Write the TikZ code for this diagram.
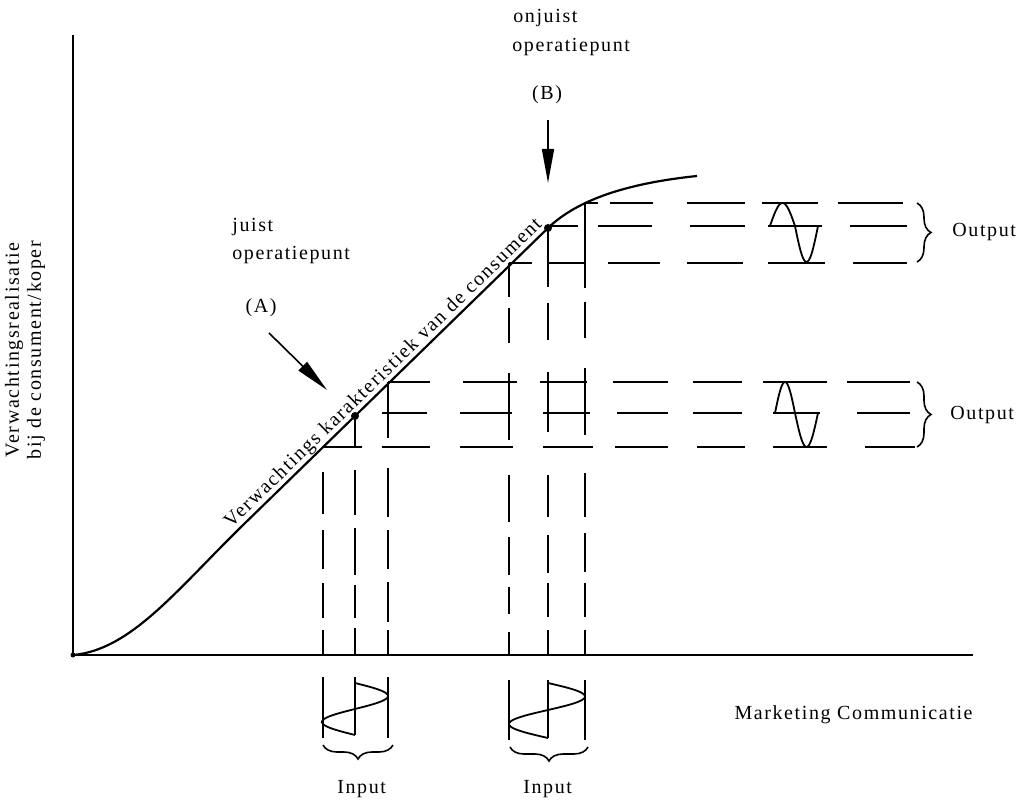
\documentclass[tikz,border=0pt]{standalone}
\usepackage{fontspec}
\setmainfont[LetterSpace=8]{Liberation Serif}
\usetikzlibrary{arrows.meta,decorations.pathreplacing}

\begin{document}
\begin{tikzpicture}[x=0.5pt,y=-0.5pt,
  axis/.style={line width=1pt},
  curve/.style={line width=1.1pt},
  grid/.style={line width=0.8pt},
  wave/.style={line width=0.9pt, line join=round},
  lbl/.style={inner sep=0pt, font=\fontsize{10}{10.5}\selectfont},
  dot/.style={circle, fill, inner sep=0pt, minimum size=4pt},
  pointer/.style={line width=0.8pt, -{Triangle[length=17pt,width=6pt]}},
  bracer/.style={decorate, decoration={brace, amplitude=7pt}, line width=0.8pt}]

\useasboundingbox (0,0) rectangle (1028,802);

% axes
\coordinate (O) at (73,655);
\coordinate (ytop) at (73,35);
\coordinate (xend) at (973,655);
\draw[axis] (ytop) -- (O) -- (xend);
\fill (O) circle (2.5);

% characteristic curve
\draw[curve] (O) .. controls (130,650) and (175,592) .. (240,528)
  -- (548,228) .. controls (570,207) and (610,185) .. (697,176);

% operating points
\node[dot] (pA) at (355,416) {};
\node[dot] (pB) at (548,228) {};

% projection lines, point A
\foreach \a/\b in {388/430,463/517,540/587,613/668,693/742,763/827,847/910}
  \draw[grid] (\a,382) -- (\b,382);
\foreach \a/\b in {382/427,460/512,543/590,617/668,693/742,773/820,857/910}
  \draw[grid] (\a,413) -- (\b,413);
\foreach \a/\b in {322/362,382/430,460/513,543/593,615/668,697/745,773/827,865/915}
  \draw[grid] (\a,447) -- (\b,447);
\foreach \a/\b in {472/514,530/569,583/618,630/655}
  \draw[grid] (323,\a) -- (323,\b);
\foreach \a/\b in {416/447,470/515,528/575,585/618,628/655}
  \draw[grid] (355,\a) -- (355,\b);
\foreach \a/\b in {382/438,468/517,530/569,582/622,630/655}
  \draw[grid] (388,\a) -- (388,\b);

% projection lines, point B
\foreach \a/\b in {584/598,610/653,687/745,762/818,838/903}
  \draw[grid] (\a,203) -- (\b,203);
\foreach \a/\b in {548/578,598/652,690/745,768/822,850/907}
  \draw[grid] (\a,226) -- (\b,226);
\foreach \a/\b in {509/532,548/585,608/660,687/743,768/825,853/907}
  \draw[grid] (\a,263) -- (\b,263);
\foreach \a/\b in {263/297,308/343,373/440,475/522,537/575,587/614,632/655}
  \draw[grid] (509,\a) -- (509,\b);
\foreach \a/\b in {228/287,303/340,372/432,475/517,535/573,583/617,630/655}
  \draw[grid] (548,\a) -- (548,\b);
\foreach \a/\b in {202/288,302/338,368/435,473/517,533/572,583/617,630/655}
  \draw[grid] (585,\a) -- (585,\b);

% input signals below the axis
\draw[grid] (323,677) -- (323,738);
\draw[grid] (355,677) -- (355,735);
\draw[grid] (388,677) -- (388,738);
\draw[wave] plot[domain=0:360, samples=60, variable=\t]
  ({355+33*sin(\t)}, {683+\t/360*52});
\draw[grid] (509,680) -- (509,740);
\draw[grid] (548,680) -- (548,738);
\draw[grid] (585,680) -- (585,740);
\draw[wave] plot[domain=0:180, samples=30, variable=\t]
  ({548+37*sin(\t)}, {683+\t/180*27})
  -- plot[domain=180:360, samples=30, variable=\t]
  ({548+39*sin(\t)}, {710+(\t-180)/180*28});

% output signals
\draw[wave] plot[domain=0:180, samples=30, variable=\t]
  ({775+\t/180*20}, {413-31*sin(\t)})
  -- plot[domain=180:360, samples=30, variable=\t]
  ({795+(\t-180)/180*23}, {413-34*sin(\t)});
\draw[wave] plot[domain=0:180, samples=30, variable=\t]
  ({770+\t/180*25}, {226-23*sin(\t)})
  -- plot[domain=180:360, samples=30, variable=\t]
  ({795+(\t-180)/180*23}, {226-36*sin(\t)});

% braces
\draw[bracer] (917,203) -- (917,262);
\draw[bracer] (917,382) -- (917,447);
\draw[bracer] (393,745) -- (323,745);
\draw[bracer] (588,747) -- (510,747);

% labels
\node[lbl, anchor=base west] (onj) at (513,23) {onjuist};
\node[lbl, anchor=base west] (opB) at (512,52) {operatiepunt};
\node[lbl, anchor=base] (labB) at (547,100) {(B)};
\node[lbl, anchor=base west] (jst) at (232,232) {juist};
\node[lbl, anchor=base west] (opA) at (232,260) {operatiepunt};
\node[lbl, anchor=base] (labA) at (261,313) {(A)};
\node[lbl, anchor=base west] (outB) at (952,237) {Output};
\node[lbl, anchor=base west] (outA) at (950,419) {Output};
\node[lbl, anchor=base west] (inA) at (337,793) {Input};
\node[lbl, anchor=base west] (inB) at (523,793) {Input};
\node[lbl, anchor=base east] (xlab) at (973,719) {Marketing Communicatie};
\node[lbl, font=\fontsize{10}{11}\selectfont, rotate=90, align=center] (ylab) at (25,350)
  {Verwachtingsrealisatie\\bij de consument/koper};
\node[lbl, rotate=44.25, anchor=base] (clab)
  at (387,377) {Verwachtings karakteristiek van de consument};

% pointers to the operating points
\coordinate (aAs) at (269,333);
\coordinate (aAe) at (327,390);
\coordinate (aBs) at (548,120);
\coordinate (aBe) at (548,183);
\draw[pointer] (aAs) -- (aAe);
\draw[pointer] (aBs) -- (aBe);
\end{tikzpicture}
\end{document}
